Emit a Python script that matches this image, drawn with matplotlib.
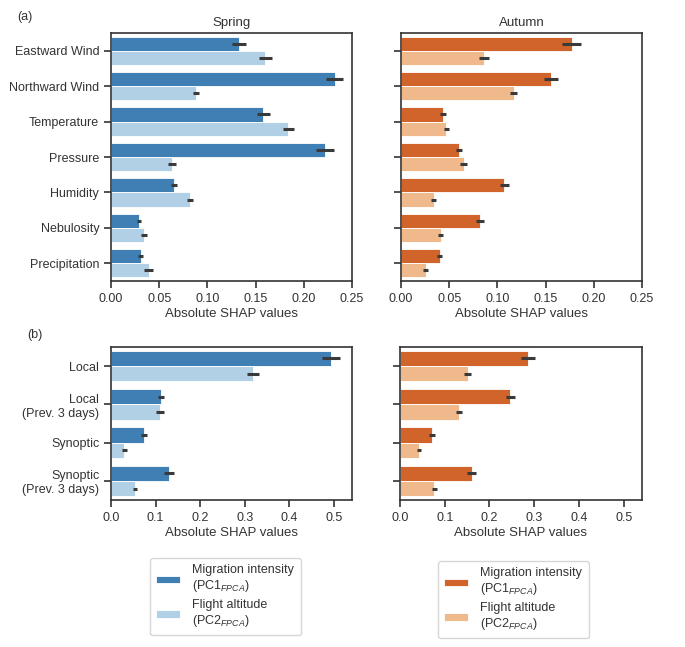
import numpy as np
import matplotlib
matplotlib.use("Agg")
import matplotlib.pyplot as plt

plt.rcParams['font.family'] = ['Liberation Sans', 'DejaVu Sans']
plt.rcParams['mathtext.fontset'] = 'custom'
plt.rcParams['mathtext.it'] = 'Liberation Sans:italic'
plt.rcParams['mathtext.rm'] = 'Liberation Sans'
plt.rcParams['font.size'] = 9
plt.rcParams['text.color'] = '#333333'
plt.rcParams['axes.labelcolor'] = '#333333'
plt.rcParams['xtick.color'] = '#333333'
plt.rcParams['ytick.color'] = '#333333'

# (a) weather variables
weather_vars = ['Eastward Wind', 'Northward Wind', 'Temperature', 'Pressure',
                'Humidity', 'Nebulosity', 'Precipitation']
spring_pc1 = [0.133, 0.232, 0.158, 0.222, 0.065, 0.029, 0.031]
spring_pc1_err = [0.0075, 0.009, 0.007, 0.009, 0.003, 0.0025, 0.0026]
spring_pc2 = [0.160, 0.088, 0.184, 0.063, 0.082, 0.034, 0.039]
spring_pc2_err = [0.0065, 0.003, 0.006, 0.004, 0.0035, 0.003, 0.005]
autumn_pc1 = [0.177, 0.1555, 0.0433, 0.0602, 0.107, 0.0817, 0.040]
autumn_pc1_err = [0.0097, 0.007, 0.003, 0.003, 0.0048, 0.004, 0.0024]
autumn_pc2 = [0.0862, 0.117, 0.0467, 0.065, 0.034, 0.041, 0.0256]
autumn_pc2_err = [0.0054, 0.0036, 0.0026, 0.0036, 0.0024, 0.003, 0.0026]

# (b) scale groups
scale_vars = ['Local', 'Local\n(Prev. 3 days)', 'Synoptic', 'Synoptic\n(Prev. 3 days)']
spring_s_pc1 = [0.494, 0.113, 0.074, 0.130]
spring_s_pc1_err = [0.02, 0.0065, 0.007, 0.011]
spring_s_pc2 = [0.319, 0.110, 0.030, 0.054]
spring_s_pc2_err = [0.013, 0.008, 0.005, 0.005]
autumn_s_pc1 = [0.286, 0.246, 0.0724, 0.160]
autumn_s_pc1_err = [0.015, 0.010, 0.0067, 0.0097]
autumn_s_pc2 = [0.151, 0.132, 0.0425, 0.077]
autumn_s_pc2_err = [0.0075, 0.007, 0.0045, 0.0056]

series_labels = ['Migration intensity\n(PC1$_{FPCA}$)', 'Flight altitude\n(PC2$_{FPCA}$)']
spring_colors = ['#3f7fb4', '#b2d0e5']
autumn_colors = ['#d0642a', '#efb98b']

W, H = 685, 647
fig = plt.figure(figsize=(W / 100, H / 100), dpi=100)

def px_axes(x0, y0, x1, y1):
    return fig.add_axes([x0 / W, 1 - y1 / H, (x1 - x0) / W, (y1 - y0) / H])

def bars(ax, cats, v1, e1, v2, e2, colors, xlim, ticks, fmt, labels=True):
    y = np.arange(len(cats))
    bw = 0.4
    ekw = dict(ecolor='#3a3a3a', elinewidth=2.2, capsize=0)
    ax.barh(y - bw / 2, v1, height=bw, xerr=e1, color=colors[0], edgecolor='white',
            linewidth=0.6, error_kw=ekw, label=series_labels[0])
    ax.barh(y + bw / 2, v2, height=bw, xerr=e2, color=colors[1], edgecolor='white',
            linewidth=0.6, error_kw=ekw, label=series_labels[1])
    ax.set_ylim(len(cats) - 0.5, -0.5)
    ax.set_yticks(y)
    ax.set_yticklabels(cats if labels else [])
    ax.set_xlim(*xlim)
    ax.set_xticks(ticks)
    ax.set_xticklabels([fmt.format(t) for t in ticks])
    ax.set_xlabel('Absolute SHAP values', fontsize=9.5, labelpad=2)
    for s in ax.spines.values():
        s.set_color('#333333')
        s.set_linewidth(1.2)
    ax.tick_params(length=5, width=1.2, labelsize=9)

ax1 = px_axes(111, 33, 352, 281)
ax2 = px_axes(401, 33, 642, 281)
ax3 = px_axes(111, 347, 352, 500)
ax4 = px_axes(400, 347, 642, 500)

top_ticks = [0, 0.05, 0.10, 0.15, 0.20, 0.25]
bot_ticks = [0, 0.1, 0.2, 0.3, 0.4, 0.5]
bars(ax1, weather_vars, spring_pc1, spring_pc1_err, spring_pc2, spring_pc2_err,
     spring_colors, (0, 0.25), top_ticks, '{:.2f}')
bars(ax2, weather_vars, autumn_pc1, autumn_pc1_err, autumn_pc2, autumn_pc2_err,
     autumn_colors, (0, 0.25), top_ticks, '{:.2f}', labels=False)
bars(ax3, scale_vars, spring_s_pc1, spring_s_pc1_err, spring_s_pc2, spring_s_pc2_err,
     spring_colors, (0, 0.541), bot_ticks, '{:.1f}')
bars(ax4, scale_vars, autumn_s_pc1, autumn_s_pc1_err, autumn_s_pc2, autumn_s_pc2_err,
     autumn_colors, (0, 0.541), bot_ticks, '{:.1f}', labels=False)

ax1.set_title('Spring', fontsize=9.5, pad=5)
ax2.set_title('Autumn', fontsize=9.5, pad=5)

fig.text(17 / W, 1 - 17 / H, '(a)', fontsize=9, va='center')
fig.text(27 / W, 1 - 335 / H, '(b)', fontsize=9, va='center')

for ax, x0, y0 in [(ax3, 150, 558), (ax4, 438, 561)]:
    h, l = ax.get_legend_handles_labels()
    fig.legend(h, l, loc='upper left', bbox_to_anchor=(x0 / W, 1 - y0 / H),
               fontsize=9, handlelength=1.9, handleheight=0.5, borderpad=0.5,
               labelspacing=0.35, handletextpad=1.0, frameon=True,
               edgecolor='#cccccc', borderaxespad=0)

fig.savefig('out.png', dpi=100)
